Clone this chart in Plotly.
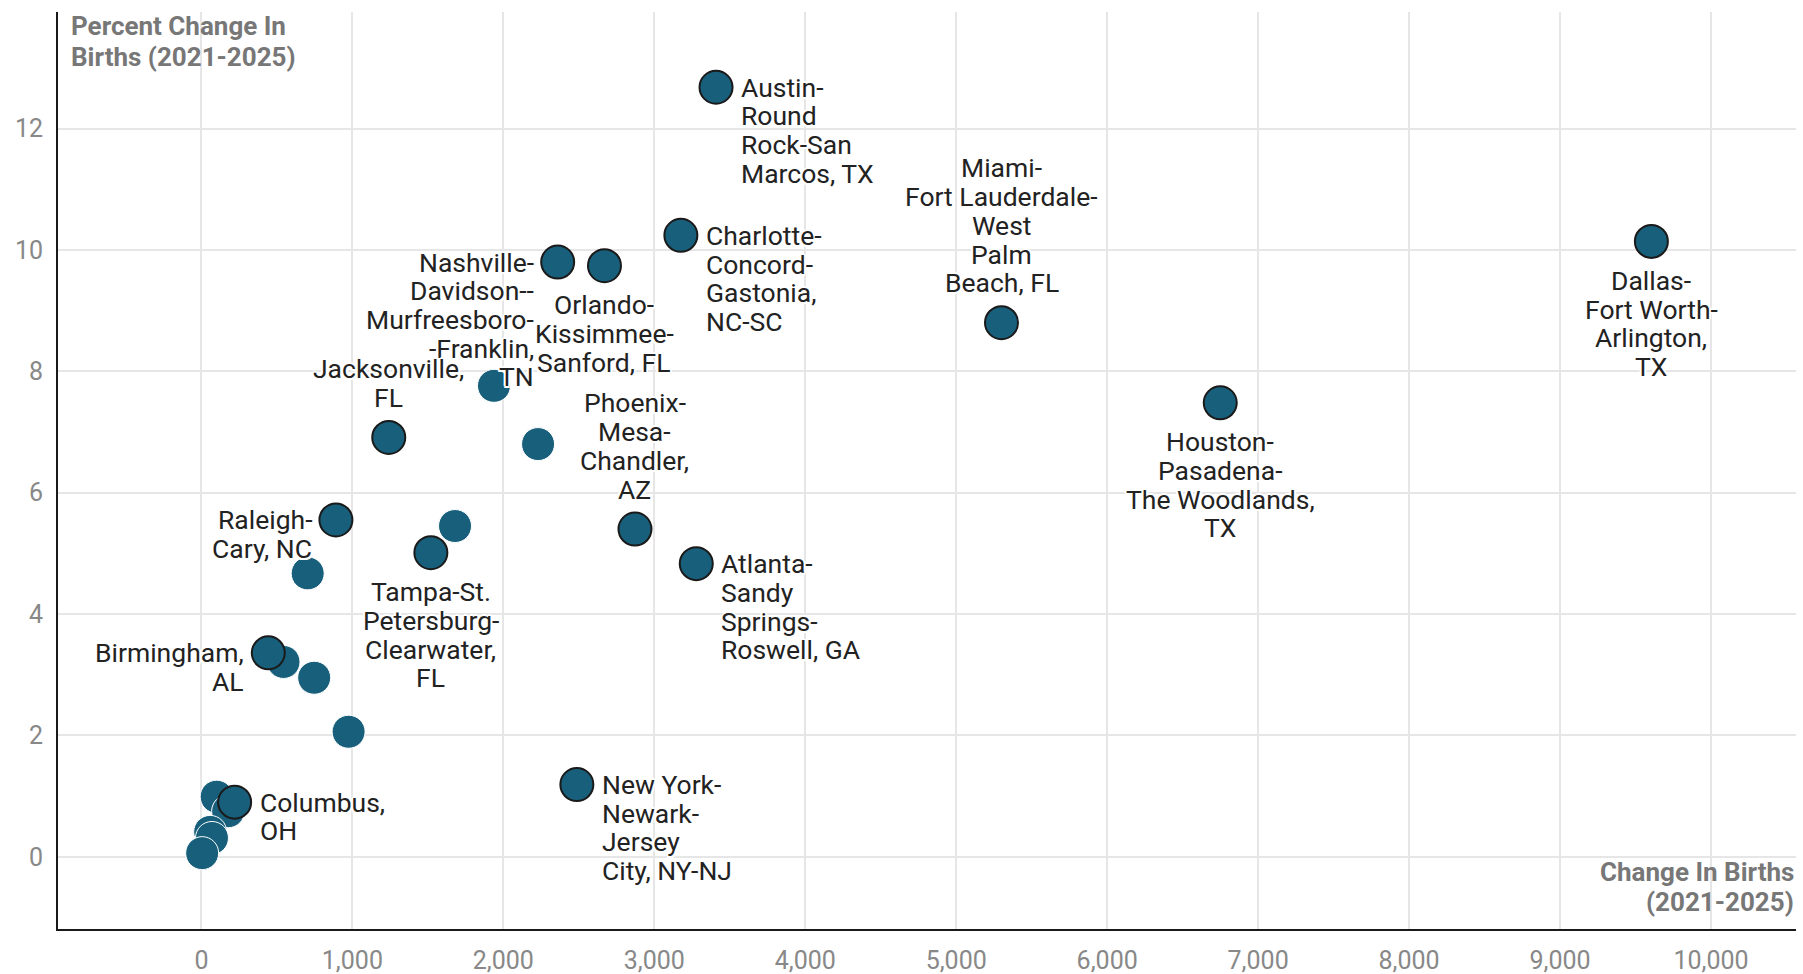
import plotly.graph_objects as go

# labelled metro areas
metros = [
    "Austin-<br>Round<br>Rock-San<br>Marcos, TX",
    "Charlotte-<br>Concord-<br>Gastonia,<br>NC-SC",
    "Nashville-<br>Davidson--<br>Murfreesboro-<br>-Franklin,<br>TN",
    "Orlando-<br>Kissimmee-<br>Sanford, FL",
    "Miami-<br>Fort Lauderdale-<br>West<br>Palm<br>Beach, FL",
    "Dallas-<br>Fort Worth-<br>Arlington,<br>TX",
    "Houston-<br>Pasadena-<br>The Woodlands,<br>TX",
    "Jacksonville,<br>FL",
    "Phoenix-<br>Mesa-<br>Chandler,<br>AZ",
    "Atlanta-<br>Sandy<br>Springs-<br>Roswell, GA",
    "Raleigh-<br>Cary, NC",
    "Tampa-St.<br>Petersburg-<br>Clearwater,<br>FL",
    "Birmingham,<br>AL",
    "Columbus,<br>OH",
    "New York-<br>Newark-<br>Jersey<br>City, NY-NJ",
]
metro_change = [3409, 3176, 2360, 2670, 5300, 9605, 6749, 1241, 2872, 3278, 891, 1520, 443, 220, 2487]
metro_pct = [12.68, 10.24, 9.80, 9.74, 8.80, 10.14, 7.48, 6.91, 5.40, 4.83, 5.55, 5.01, 3.36, 0.90, 1.19]
label_side = ["right", "right", "left", "below", "above", "below", "below", "above",
              "above", "right", "left", "below", "left", "right", "right"]

# other metro areas (no label)
other_change = [1938, 2230, 1680, 704, 544, 747, 975, 101, 177, 58, 70, 5]
other_pct = [7.76, 6.80, 5.45, 4.67, 3.21, 2.95, 2.06, 0.99, 0.75, 0.41, 0.31, 0.06]

x_ticks = list(range(0, 10001, 1000))
y_ticks = [0, 2, 4, 6, 8, 10, 12]

TEAL = "#185f7b"
FONT = "Roboto"
LINE_H = 28.7
HALO = ", ".join(f"{dx}px {dy}px 0 #fff" for dx, dy in
                 [(2, 0), (-2, 0), (0, 2), (0, -2), (1.5, 1.5), (-1.5, -1.5), (1.5, -1.5), (-1.5, 1.5)])

fig = go.Figure()

fig.add_trace(go.Scatter(x=other_change, y=other_pct, mode="markers",
                         marker=dict(size=33, color=TEAL, line=dict(color="white", width=1)),
                         hoverinfo="skip", showlegend=False))
fig.add_trace(go.Scatter(x=metro_change, y=metro_pct, mode="markers",
                         marker=dict(size=33, color=TEAL, line=dict(color="#1a1a1a", width=2)),
                         text=[m.replace("<br>", " ") for m in metros],
                         hoverinfo="text", showlegend=False))

annotations = []


def add_lines(lines, x, y, xanchor, xshift, first_shift, **kw):
    for i, line in enumerate(lines):
        annotations.append(dict(x=x, y=y, text=line, showarrow=False, xanchor=xanchor, yanchor="middle",
                                xshift=xshift, yshift=first_shift - i * LINE_H, **kw))


label_font = dict(family=FONT, size=26.5, color="#222222", shadow=HALO)
for name, x, y, side in zip(metros, metro_change, metro_pct, label_side):
    lines = name.split("<br>")
    if side == "right":
        add_lines(lines, x, y, "left", 23, 0, font=label_font)
    elif side == "left":
        add_lines(lines, x, y, "right", -22, 0, font=label_font)
    elif side == "below":
        add_lines(lines, x, y, "center", 0, -39, font=label_font)
    else:
        add_lines(lines, x, y, "center", 0, 40 + (len(lines) - 1) * LINE_H, font=label_font)

title_font = dict(family=FONT, size=26, color="#777777", weight="bold")
for i, line in enumerate(["Percent Change In", "Births (2021-2025)"]):
    annotations.append(dict(xref="paper", yref="paper", x=0, y=1, xanchor="left", yanchor="middle",
                            xshift=11, yshift=-14 - i * 31, text=line, showarrow=False, font=title_font))
for i, line in enumerate(["Change In Births", "(2021-2025)"]):
    annotations.append(dict(xref="paper", yref="paper", x=1, y=0, xanchor="right", yanchor="middle",
                            xshift=0, yshift=57 - i * 30, text=line, showarrow=False, font=title_font))

fig.update_layout(
    width=1803, height=974,
    margin=dict(l=58, r=7, t=12, b=45),
    paper_bgcolor="white", plot_bgcolor="white",
    font=dict(family=FONT),
    annotations=annotations,
    xaxis=dict(range=[-950, 10563], tickvals=x_ticks, tickformat=",", showgrid=True,
               gridcolor="#e6e6e6", gridwidth=2, zeroline=False, showline=True, linecolor="#1a1a1a",
               linewidth=2, ticks="", tickfont=dict(family=FONT, size=25, color="#888888"),
               ticklabelstandoff=8, automargin=False),
    yaxis=dict(range=[-1.19, 13.92], tickvals=y_ticks, showgrid=True, gridcolor="#e6e6e6", gridwidth=2,
               zeroline=False, showline=True, linecolor="#1a1a1a", linewidth=2, ticks="",
               tickfont=dict(family=FONT, size=25, color="#888888"), ticklabelstandoff=8,
               automargin=False),
)

fig.write_html("out.html", config={"displayModeBar": False},
               post_script="document.body.style.margin='0';")
